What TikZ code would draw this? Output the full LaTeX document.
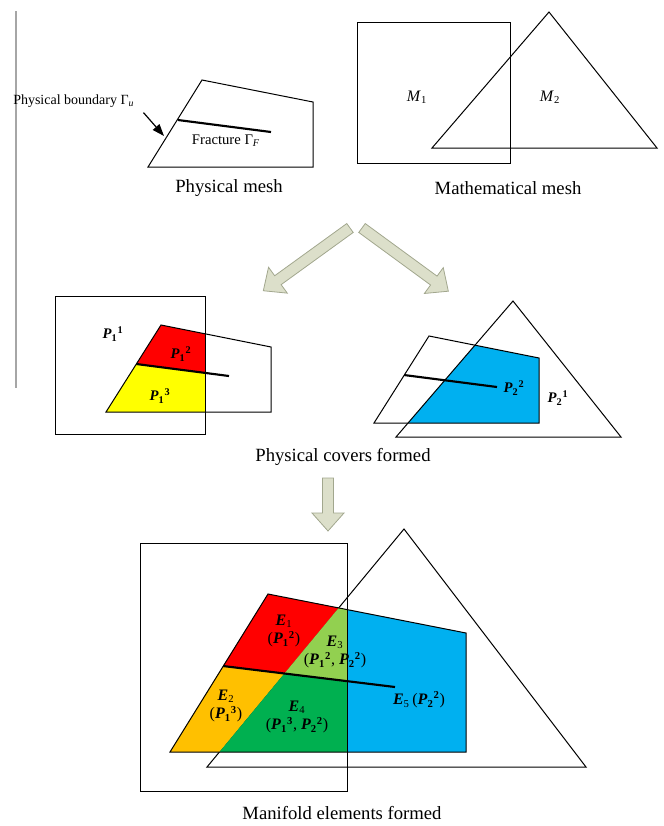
\documentclass[tikz,border=0pt]{standalone}
\usepackage{amsmath}
\usepackage{fontspec}
\setmainfont{Liberation Serif}
\usetikzlibrary{arrows.meta}
\definecolor{redcov}{HTML}{FF0000}
\definecolor{yellowcov}{HTML}{FFFF00}
\definecolor{bluecov}{HTML}{00B0F0}
\definecolor{orangecov}{HTML}{FFC000}
\definecolor{greencov}{HTML}{00B050}
\definecolor{limecov}{HTML}{92D050}
\definecolor{arrowfill}{HTML}{DCDFCA}
\definecolor{arrowedge}{HTML}{A2A78E}
\newcommand{\cov}[3]{\textbf{\textit{#1}}\textsubscript{\textbf{#2}}\textsuperscript{\textbf{#3}}}
\newcommand{\elem}[2]{\textbf{\textit{#1}}\textsubscript{#2}}
\tikzset{
  meshline/.style={line width=0.75pt, line join=miter},
  fracline/.style={line width=1.6pt},
  captxt/.style={font=\fontsize{14}{16}\selectfont, inner sep=0pt},
  lbl/.style={font=\fontsize{10.5}{12}\selectfont, inner sep=0pt},
  mlbl/.style={font=\fontsize{12}{14}\selectfont, inner sep=0pt},
  covlbl/.style={font=\fontsize{11}{13}\selectfont, inner sep=0pt},
  elbl/.style={font=\fontsize{12}{14}\selectfont, inner sep=0pt, align=center},
  blockarr/.style={fill=arrowfill, draw=arrowedge, line width=0.6pt},
  ptr/.style={-{Triangle[length=9pt,width=6.5pt]}, line width=0.9pt},
}
\newcommand{\fatarrow}[4]{% tail x, tail y, angle, length
  \begin{scope}[shift={(#1,#2)}, rotate=#3]
    \draw[blockarr] (0,-5.5) -- (#4-18,-5.5) -- (#4-18,-16) -- (#4,0) -- (#4-18,16) -- (#4-18,5.5) -- (0,5.5) -- cycle;
  \end{scope}}

\begin{document}
\begin{tikzpicture}[x=0.75pt, y=-0.75pt]
  \useasboundingbox (0,0) rectangle (664,826);
  \draw[gray!70, line width=1.5pt] (15.5,11) -- (15.5,388);

  % physical mesh
  \draw[meshline] (148,167) -- (202,80) -- (313,102) -- (313,167) -- cycle;
  \draw[fracline] (178,120) -- (271,132);
  \node[lbl, anchor=west] (bnd) at (13,101) {Physical boundary Γ\textsubscript{\textit{u}}};
  \coordinate (bdhit) at (164,136);
  \draw[ptr] ([shift={(9,5)}]bnd.south east) -- (bdhit);
  \node[lbl, font=\fontsize{11}{13}\selectfont] (fraclbl) at (226,141) {Fracture Γ\textsubscript{\textit{F}}};
  \node[captxt] (physmesh) at (229,188) {Physical mesh};

  % mathematical mesh
  \draw[meshline] (357,22) rectangle (510,163);
  \draw[meshline] (549,12) -- (432,148) -- (657,148) -- cycle;
  \node[mlbl] (m1) at (417,97) {\textit{M}\textsubscript{1}};
  \node[mlbl] (m2) at (550,97) {\textit{M}\textsubscript{2}};
  \node[captxt] (mathmesh) at (508,188) {Mathematical mesh};

  \fatarrow{350}{228}{215.9}{107}
  \fatarrow{362}{228}{-36.2}{107}

  % physical covers, left
  \fill[redcov] (161,325) -- (205,333.8) -- (205,372.9) -- (136.3,364) -- cycle;
  \fill[yellowcov] (136.3,364) -- (205,372.9) -- (205,412) -- (106,412) -- cycle;
  \draw[meshline] (55,296) rectangle (205,434);
  \draw[meshline] (106,412) -- (161,325) -- (271,347) -- (271,412) -- cycle;
  \draw[fracline] (136.3,364) -- (229,376);
  \node[covlbl] (p11) at (113,334) {\cov{P}{1}{1}};
  \node[covlbl] (p12) at (181,354) {\cov{P}{1}{2}};
  \node[covlbl] (p13) at (160,396) {\cov{P}{1}{3}};

  % physical covers, right
  \fill[bluecov] (474.9,345.2) -- (539,358) -- (539,423) -- (408,423) -- cycle;
  \draw[meshline] (374,423) -- (429,336) -- (539,358) -- (539,423) -- cycle;
  \draw[meshline] (513,301) -- (396,437) -- (621,437) -- cycle;
  \draw[fracline] (404,375) -- (497,387);
  \node[covlbl] (p22) at (514,388) {\cov{P}{2}{2}};
  \node[covlbl] (p21) at (558,398) {\cov{P}{2}{1}};
  \node[captxt] (covcap) at (343,457) {Physical covers formed};

  \fatarrow{328}{478}{-90}{53}

  % manifold elements
  \draw[meshline] (404,529) -- (207,767) -- (586,767) -- cycle;
  \fill[redcov] (268,594) -- (338.7,607.9) -- (284.4,673.5) -- (223,666) -- cycle;
  \fill[limecov] (338.7,607.9) -- (347,609.6) -- (347,681.1) -- (284.4,673.5) -- cycle;
  \fill[orangecov] (223,666) -- (284.4,673.5) -- (219.4,752) -- (170,752) -- cycle;
  \fill[greencov] (284.4,673.5) -- (347,681.1) -- (347,752) -- (219.4,752) -- cycle;
  \fill[bluecov] (347,609.6) -- (466,633) -- (466,752) -- (347,752) -- cycle;
  \draw[meshline] (140,543) rectangle (347,791);
  \draw[meshline] (170,752) -- (268,594) -- (466,633) -- (466,752) -- cycle;
  \draw[fracline] (223,666) -- (395,687);
  \node[elbl] (e1) at (284,631) {\elem{E}{1}\\(\cov{P}{1}{2})};
  \node[elbl] (e3) at (335,652) {\elem{E}{3}\\(\cov{P}{1}{2}, \cov{P}{2}{2})};
  \node[elbl] (e2) at (226,706) {\elem{E}{2}\\(\cov{P}{1}{3})};
  \node[elbl] (e4) at (297,717) {\elem{E}{4}\\(\cov{P}{1}{3}, \cov{P}{2}{2})};
  \node[elbl] (e5) at (419,700) {\elem{E}{5}\,(\cov{P}{2}{2})};
  \node[captxt] (mancap) at (342,813) {Manifold elements formed};
\end{tikzpicture}
\end{document}
